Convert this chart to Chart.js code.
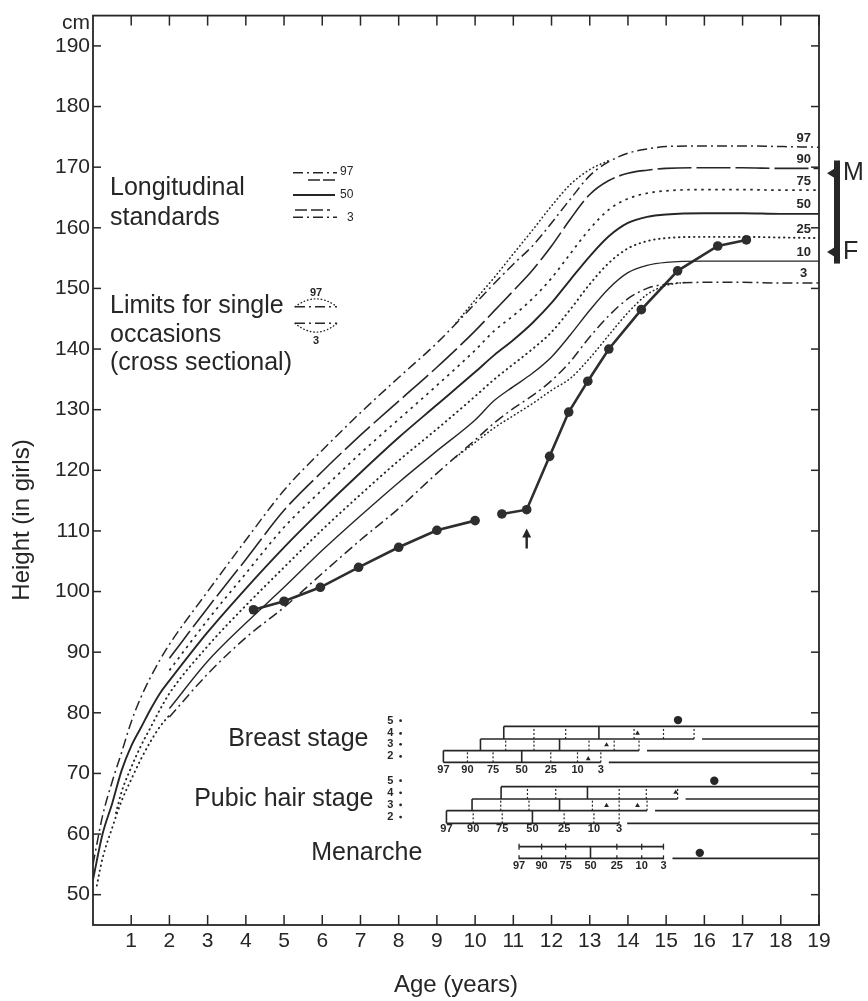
<!DOCTYPE html>
<html><head><meta charset="utf-8">
<script src="https://cdn.jsdelivr.net/npm/chart.js@4.4.1/dist/chart.umd.min.js"></script>
<style>html,body{margin:0;padding:0;background:#fff}#wrap{width:868px;height:1001px}</style>
</head><body><div id="wrap"><canvas id="c" width="868" height="1001"></canvas></div>
<script>
// ---------------- data ----------------
const ageTicks = [1,2,3,4,5,6,7,8,9,10,11,12,13,14,15,16,17,18,19];
const heightTicks = [50,60,70,80,90,100,110,120,130,140,150,160,170,180,190];

const agesStd = [2,3,4,5,6,7,8,9,10,10.5,11,11.5,12,12.5,13,13.5,14,14.5,15,16,17,18,19];
const p97 = [91.3,100,108.5,116.7,123.3,129.5,135.3,141,147.5,150.8,154,157,160.8,164.8,168.6,170.9,172.3,173,173.4,173.5,173.5,173.4,173.3];
const p90 = [89,97.3,105.3,113.4,119.8,125.8,131.4,137,143,146.3,149.6,153,157,161.5,165.5,167.8,169,169.5,169.8,169.9,169.9,169.8,169.8];
const p75 = [87,95.3,103,110.6,116.8,122.8,128.4,134,139.8,143,145.5,148.3,151.7,155.8,159.8,163,164.8,165.7,166.1,166.3,166.3,166.2,166.2];
const p50 = [85.3,93.3,100.5,107.3,113.6,119.6,125.4,130.8,136.2,139,141.5,144.3,147.6,151.5,155.3,158.6,160.8,161.8,162.2,162.4,162.4,162.3,162.3];
const p25 = [83.2,91,97.7,104,110.2,116,121.6,126.8,132.2,135,137.5,140,142.8,146.6,150.7,154.2,156.6,157.8,158.3,158.5,158.5,158.4,158.3];
const p10 = [80.7,88.5,94.8,100.7,106.8,112.5,118,123.2,128.3,131.5,133.8,136,138.7,142.4,146.4,150,152.6,153.8,154.3,154.5,154.5,154.5,154.5];
const p3  = [79.3,86.4,92.4,97.4,103,108.5,113.7,119.5,125,127.8,130.2,132.3,134.8,138,142,145.5,148.3,150,150.7,151,151,150.9,150.9];

const infantAges97 = [0,0.25,0.5,0.75,1,1.25,1.5,1.75];
const infant97 = [55,63,68.6,73.5,78.5,82.5,85.8,88.7];
const infantAges50 = [0,0.25,0.5,0.75,1,1.25,1.5,1.75];
const infant50 = [52.5,60,65,70.5,74.5,77.5,80.5,83.2];
const infantAges25 = [0.6,0.75,1,1.25,1.5,1.75];
const infant25 = [63.5,67,71,74.5,77.5,80.5];
const infantAges3 = [0.1,0.25,0.5,0.75,1,1.25,1.5,1.75,2];
const infant3 = [51.5,56,61,65.5,69,72.3,75.2,77.7,79.6];

const crossAges97 = [9.5,10,10.5,11,11.5,12,12.5,13,13.5];
const cross97 = [144.3,148.1,151.8,155.7,159.6,163.6,167.2,169.6,171.1];
const crossAges3 = [9.5,10,10.5,11,11.5,12,12.5,13,13.5,14,14.5,15,15.5];
const cross3 = [122.2,124.6,127,129,131,133.2,135.2,138.5,142.3,146,149,150.5,151];

const patientAges = [4.2,5.0,5.95,6.95,8.0,9.0,10.0,10.7,11.35,11.95,12.45,12.95,13.5,14.35,15.3,16.35,17.1];
const patientHeights = [97.0,98.4,100.7,104.0,107.3,110.1,111.7,112.8,113.5,122.3,129.6,134.7,140.0,146.5,152.9,157.0,158.0];
const patientBreakAfterAge = 10.0;
const arrowAge = 11.35;
const arrowFrom = 107.1, arrowTo = 110.4;

const pctLabels = ['97','90','75','50','25','10','3'];
const breastStage2 = [9.17,9.8,10.47,11.22,11.98,12.68,13.29];
const breastStage3 = [10.14,10.8,11.54,12.21,12.98,13.64,14.29];
const breastStage4 = [10.75,11.54,12.37,13.24,14.16,14.93,15.73];
const pubicStage2 = [9.25,9.95,10.71,11.5,12.33,13.11,13.77];
const pubicStage3 = [9.92,10.67,11.41,12.21,13.07,13.77,14.5];
const pubicStage4 = [10.68,11.37,12.11,12.94,13.77,14.48,15.3];
const menarcheAges = [11.15,11.74,12.37,13.02,13.71,14.36,14.93];

const stageDotAges = [15.31,16.26,15.88];          // breast 5, pubic hair 5, menarche
const stageDotHeights = [78.8,68.8,56.9];
const stageTriAges = [12.96,13.44,14.25,13.44,14.25,15.25];
const stageTriHeights = [72.4,74.7,76.6,64.7,64.7,66.9];

// ---------------- layout (data units) ----------------
const breastRows = [71.83,73.76,75.69,77.77];
const pubicRows = [61.77,63.86,65.79,67.82];
const menarcheRows = [55.99,57.92];
const INK = '#262626';
const NARROW = '"Liberation Sans Narrow","Liberation Sans",Arial,sans-serif';
const SANS = '"Liberation Sans",Arial,Helvetica,sans-serif';

function pts(ages, vals){ return ages.map((a,i)=>({x:a,y:vals[i]})); }
function curve(data, dash, width, cap){
  return {data, borderColor:INK, borderWidth:width, borderDash:dash, borderCapStyle:cap||'butt',
          pointRadius:0, fill:false, cubicInterpolationMode:'monotone'};
}
const DASHDOT=[10,4,2,4], DOT=[0.5,4.5];

const datasets = [
  curve(pts(infantAges97.concat(agesStd), infant97.concat(p97)), DASHDOT, 1.5),
  curve(pts(agesStd,p90), [34,5], 1.6),
  curve(pts(agesStd,p75), [2.5,4.5], 1.7),
  curve(pts(infantAges50.concat(agesStd), infant50.concat(p50)), [], 1.9),
  curve(pts(infantAges25.concat(agesStd), infant25.concat(p25)), DOT, 1.9, 'round'),
  curve(pts(agesStd,p10), [], 1.4),
  curve(pts(agesStd,p3), DASHDOT, 1.5),
  curve(pts(crossAges97,cross97), [0.5,3.5], 1.6, 'round'),
  curve(pts(crossAges3,cross3), [0.5,3.5], 1.6, 'round'),
  curve(pts(infantAges3,infant3), DOT, 1.9, 'round'),
  {data: pts(patientAges,patientHeights), borderColor:'#2e2e2e', borderWidth:2.6, tension:0,
   pointRadius:4.8, pointBackgroundColor:'#2e2e2e', pointBorderWidth:0,
   segment:{borderColor: c => (c.p0.parsed.x===patientBreakAfterAge ? 'rgba(0,0,0,0)' : '#2e2e2e')}},
  {data: pts(stageDotAges,stageDotHeights), showLine:false, pointRadius:4.2, pointBackgroundColor:INK, pointBorderWidth:0},
  {data: pts(stageTriAges,stageTriHeights), showLine:false, pointStyle:'triangle', pointRadius:2.8, pointBackgroundColor:INK, pointBorderWidth:0}
];

function line(ctx,x1,y1,x2,y2){ctx.beginPath();ctx.moveTo(x1,y1);ctx.lineTo(x2,y2);ctx.stroke();}

function ladder(ctx,X,Y,rows,stages,labelRow){
  ctx.strokeStyle=INK; ctx.setLineDash([]);
  rows.forEach((rv,k)=>{
    const start = k===0 ? stages[0][0] : stages[k-1][0];
    const py = Y(rv);
    ctx.lineWidth=1.6;
    if(k<stages.length){
      const g=stages[k][6];
      line(ctx,X(start),py,X(g),py);
      line(ctx,X(g)+8,py,X(19),py);
    } else line(ctx,X(start),py,X(19),py);
  });
  stages.forEach((ages,k)=>{
    const y0=Y(rows[k]), y1=Y(rows[k+1]);
    ages.forEach((a,i)=>{
      const px=X(a);
      if(i===0||i===3){ctx.lineWidth=1.6;ctx.setLineDash([]);}
      else {ctx.lineWidth=1.2;ctx.setLineDash([2,2]);}
      line(ctx,px,y0,px,y1);
    });
  });
  ctx.setLineDash([]);
  ctx.fillStyle=INK; ctx.font='bold 11px '+NARROW; ctx.textAlign='center'; ctx.textBaseline='middle';
  stages[0].forEach((a,i)=>ctx.fillText(pctLabels[i],X(a),Y(labelRow)));
}

const deco = {
  id:'deco',
  afterDraw(chart){
    const {ctx, chartArea:a, scales:{x,y}} = chart;
    const X=v=>x.getPixelForValue(v), Y=v=>y.getPixelForValue(v);
    ctx.save();
    ctx.strokeStyle=INK; ctx.fillStyle=INK;
    // frame + inward ticks
    ctx.lineWidth=1.8; ctx.strokeRect(a.left,a.top,a.right-a.left,a.bottom-a.top);
    ctx.lineWidth=1.5;
    ageTicks.forEach(v=>{const px=X(v); line(ctx,px,a.bottom,px,a.bottom-10); line(ctx,px,a.top,px,a.top+10);});
    heightTicks.forEach(v=>{const py=Y(v); line(ctx,a.left,py,a.left+8,py); line(ctx,a.right,py,a.right-8,py);});
    // cm
    ctx.font='21px '+NARROW; ctx.textAlign='right'; ctx.textBaseline='alphabetic';
    ctx.fillText('cm',a.left-3,a.top+13);
    // axis titles
    ctx.font='24px '+SANS; ctx.textAlign='center'; ctx.textBaseline='middle';
    ctx.fillText('Age (years)',(a.left+a.right)/2,985);
    ctx.save(); ctx.translate(22,520); ctx.rotate(-Math.PI/2); ctx.fillText('Height (in girls)',0,0); ctx.restore();
    // right percentile labels
    ctx.font='bold 13px '+NARROW; ctx.textAlign='center'; ctx.textBaseline='middle';
    [['97',p97],['90',p90],['75',p75],['50',p50],['25',p25],['10',p10],['3',p3]].forEach(([t,arr])=>{
      ctx.fillText(t,X(18.6),Y(arr[arr.length-1]+1.5));
    });
    // M / F bracket
    const bx=a.right+15, yTop=Y(171.1), yBot=Y(154.1);
    ctx.fillRect(bx,yTop,6,yBot-yTop);
    [[169.0,'M'],[156.0,'F']].forEach(([v,t])=>{
      const py=Y(v);
      ctx.beginPath(); ctx.moveTo(a.right+8,py); ctx.lineTo(bx+1,py-5); ctx.lineTo(bx+1,py+5); ctx.closePath(); ctx.fill();
      ctx.font='25px '+SANS; ctx.textAlign='left'; ctx.fillText(t,bx+9,py);
    });
    // legend texts
    ctx.font='25px '+SANS; ctx.textAlign='left'; ctx.textBaseline='alphabetic';
    ctx.fillText('Longitudinal',110,195);
    ctx.fillText('standards',110,225);
    ctx.fillText('Limits for single',110,313);
    ctx.fillText('occasions',110,341.5);
    ctx.fillText('(cross sectional)',110,370);
    // legend symbols
    ctx.lineWidth=1.4;
    ctx.setLineDash(DASHDOT); line(ctx,293,172.7,337,172.7);
    ctx.setLineDash([12,3]); line(ctx,308,180,337,180);
    ctx.setLineDash([]); ctx.lineWidth=1.8; line(ctx,293,195,335,195); ctx.lineWidth=1.4;
    ctx.setLineDash([12,4]); line(ctx,295,210,330,210);
    ctx.setLineDash(DASHDOT); line(ctx,293,217.3,337,217.3);
    ctx.setLineDash([]);
    ctx.font='12px '+NARROW; ctx.textBaseline='middle';
    ctx.fillText('97',340,172); ctx.fillText('50',340,195); ctx.fillText('3',347,218);
    // limits symbol
    ctx.setLineDash(DASHDOT); line(ctx,295,306.7,337,306.7); line(ctx,295,323.3,337,323.3);
    ctx.setLineDash([0.5,3]); ctx.lineCap='round';
    ctx.beginPath(); ctx.moveTo(295,306.7); ctx.quadraticCurveTo(316,291,337,306.7); ctx.stroke();
    ctx.beginPath(); ctx.moveTo(295,323.3); ctx.quadraticCurveTo(316,341,337,323.3); ctx.stroke();
    ctx.setLineDash([]); ctx.lineCap='butt';
    ctx.textAlign='center'; ctx.font='bold 11px '+NARROW;
    ctx.fillText('97',316,293); ctx.fillText('3',316,341);
    // maturation ladders
    ladder(ctx,X,Y,breastRows,[breastStage2,breastStage3,breastStage4],70.63);
    ladder(ctx,X,Y,pubicRows,[pubicStage2,pubicStage3,pubicStage4],60.89);
    // menarche
    const mT=Y(menarcheRows[1]), mB=Y(menarcheRows[0]), m=menarcheAges;
    ctx.lineWidth=1.6;
    line(ctx,X(m[0]),mT,X(m[6]),mT); line(ctx,X(m[0]),mB,X(m[6]),mB); line(ctx,X(m[6])+9,mB,X(19),mB);
    m.forEach((age,i)=>{
      const px=X(age);
      if(i===3){ctx.lineWidth=1.6; line(ctx,px,mT,px,mB);}
      else { ctx.lineWidth=1.3; line(ctx,px,mT-3,px,mT+3); line(ctx,px,mB-3,px,mB+1); }
    });
    ctx.font='bold 11px '+NARROW; ctx.textAlign='center'; ctx.textBaseline='middle';
    m.forEach((age,i)=>ctx.fillText(pctLabels[i],X(age),Y(54.79)));
    // group labels
    ctx.font='25px '+SANS; ctx.textAlign='right'; ctx.textBaseline='middle';
    ctx.fillText('Breast stage',X(7.21),Y(75.7));
    ctx.fillText('Pubic hair stage',X(7.34),Y(65.8));
    ctx.fillText('Menarche',X(8.62),Y(56.8));
    ctx.font='bold 11px '+NARROW; ctx.textAlign='center';
    const stageNums=['5','4','3','2'];
    [[78.7,76.6,74.8,72.8],[68.8,66.8,64.8,62.8]].forEach(vals=>{
      vals.forEach((v,i)=>{
        ctx.fillText(stageNums[i],X(7.78),Y(v));
        ctx.beginPath(); ctx.arc(X(8.05),Y(v),1.4,0,Math.PI*2); ctx.fill();
      });
    });
    // arrow
    const ax=X(arrowAge), ay0=Y(arrowFrom), ay1=Y(arrowTo);
    ctx.lineWidth=2.4; line(ctx,ax,ay0,ax,ay1+6);
    ctx.beginPath(); ctx.moveTo(ax,ay1); ctx.lineTo(ax-4.5,ay1+9); ctx.lineTo(ax+4.5,ay1+9); ctx.closePath(); ctx.fill();
    ctx.restore();
  }
};

new Chart(document.getElementById('c'), {
  type:'line',
  data:{datasets},
  options:{
    responsive:false, animation:false, devicePixelRatio:1,
    layout:{padding:{top:14,right:49,left:0,bottom:0}},
    plugins:{legend:{display:false},tooltip:{enabled:false}},
    scales:{
      x:{type:'linear',min:0,max:19,
        afterFit(s){s.height=76;},
        afterBuildTicks(s){s.ticks=ageTicks.map(v=>({value:v}));},
        grid:{display:false,drawTicks:false}, border:{display:false},
        ticks:{font:{family:NARROW,size:21},color:INK,padding:4,maxRotation:0,autoSkip:false}},
      y:{type:'linear',min:45,max:195,
        afterFit(s){s.width=93;},
        afterBuildTicks(s){s.ticks=heightTicks.map(v=>({value:v}));},
        grid:{display:false,drawTicks:false}, border:{display:false},
        ticks:{font:{family:NARROW,size:21},color:INK,padding:3,autoSkip:false}}
    }
  },
  plugins:[deco]
});
</script></body></html>
